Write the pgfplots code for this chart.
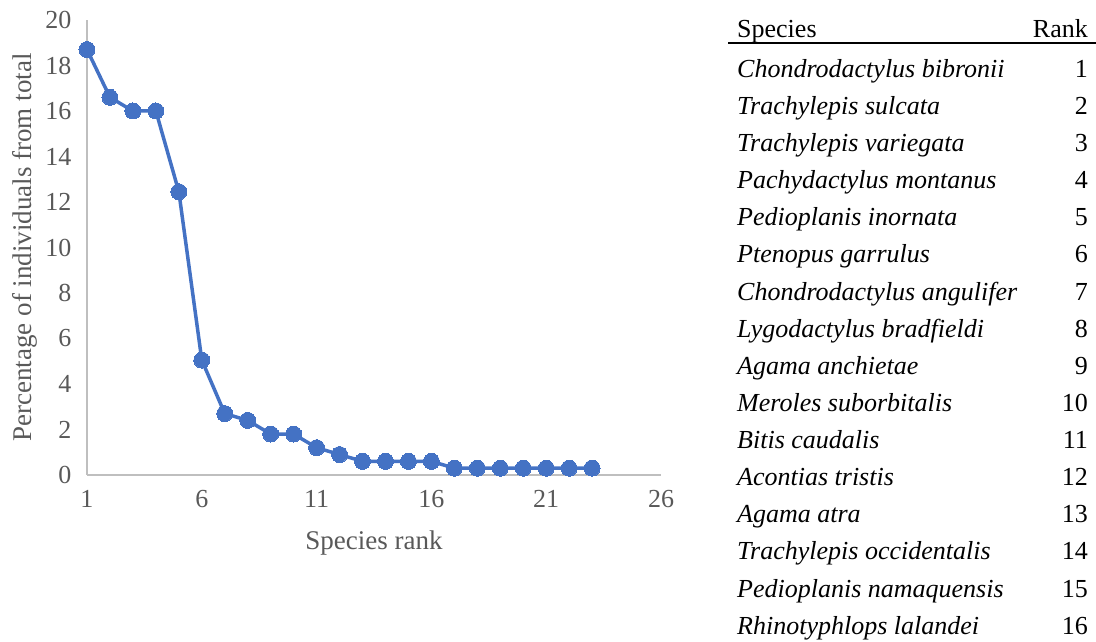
\documentclass[border=0pt]{standalone}
\usepackage{fontspec}
\setmainfont{Liberation Serif}
\usepackage{pgfplots}
\pgfplotsset{compat=1.18}
\definecolor{ser}{HTML}{4472C4}
\definecolor{txt}{HTML}{595959}
\definecolor{axl}{HTML}{BFBFBF}
\begin{document}
\begin{tikzpicture}[x=1pt,y=1pt]
\useasboundingbox (-87,-167) rectangle (1009,475);
\begin{axis}[
  at={(0,0)}, anchor=origin,
  scale only axis, width=574pt, height=455pt,
  xmin=1, xmax=26, ymin=0, ymax=20,
  xtick={1,6,11,16,21,26}, ytick={0,2,...,20},
  axis x line*=bottom, axis y line*=left,
  axis line style={axl, line width=1.2pt, -},
  major tick length=0pt,
  tick label style={font=\fontsize{26}{30}\selectfont, text=txt},
  /pgf/number format/assume math mode=true,
  label style={font=\fontsize{27}{32}\selectfont, text=txt},
  xlabel={Species rank},
  ylabel={Percentage of individuals from total},
  xlabel style={at={(axis description cs:0.5,0)}, anchor=center, yshift=-68pt},
  ylabel style={at={(axis description cs:-0.108,0.5)}, anchor=center},
  xticklabel style={yshift=-12pt},
  yticklabel style={xshift=-12pt},
  clip=false,
]
\addplot[color=ser, line width=3.5pt, mark=*, mark size=8pt, mark options={fill=ser, draw=ser, line width=0pt}]
coordinates {
(1,18.7) (2,16.6) (3,16.0) (4,16.0) (5,12.45) (6,5.05) (7,2.7) (8,2.4)
(9,1.8) (10,1.8) (11,1.2) (12,0.9) (13,0.6) (14,0.6) (15,0.6) (16,0.6)
(17,0.3) (18,0.3) (19,0.3) (20,0.3) (21,0.3) (22,0.3) (23,0.3)
};
\end{axis}
% species table
\begin{scope}[font=\fontsize{26}{31}\selectfont]
\node[anchor=mid west, inner sep=0pt] at (650,440) {Species};
\node[anchor=mid east, inner sep=0pt] at (1001,440) {Rank};
\draw[line width=2pt] (641,432) -- (1009,432);
\foreach \name [count=\i] in {Chondrodactylus bibronii, Trachylepis sulcata, Trachylepis variegata, Pachydactylus montanus, Pedioplanis inornata, Ptenopus garrulus, Chondrodactylus angulifer, Lygodactylus bradfieldi, Agama anchietae, Meroles suborbitalis, Bitis caudalis, Acontias tristis, Agama atra, Trachylepis occidentalis, Pedioplanis namaquensis, Rhinotyphlops lalandei}{
  \pgfmathsetmacro{\yy}{400-37.13*(\i-1)}
  \node[anchor=mid west, inner sep=0pt] at (650,\yy) {\itshape \name};
  \node[anchor=mid east, inner sep=0pt] at (1001,\yy) {\i};
}
\end{scope}
\end{tikzpicture}
\end{document}
